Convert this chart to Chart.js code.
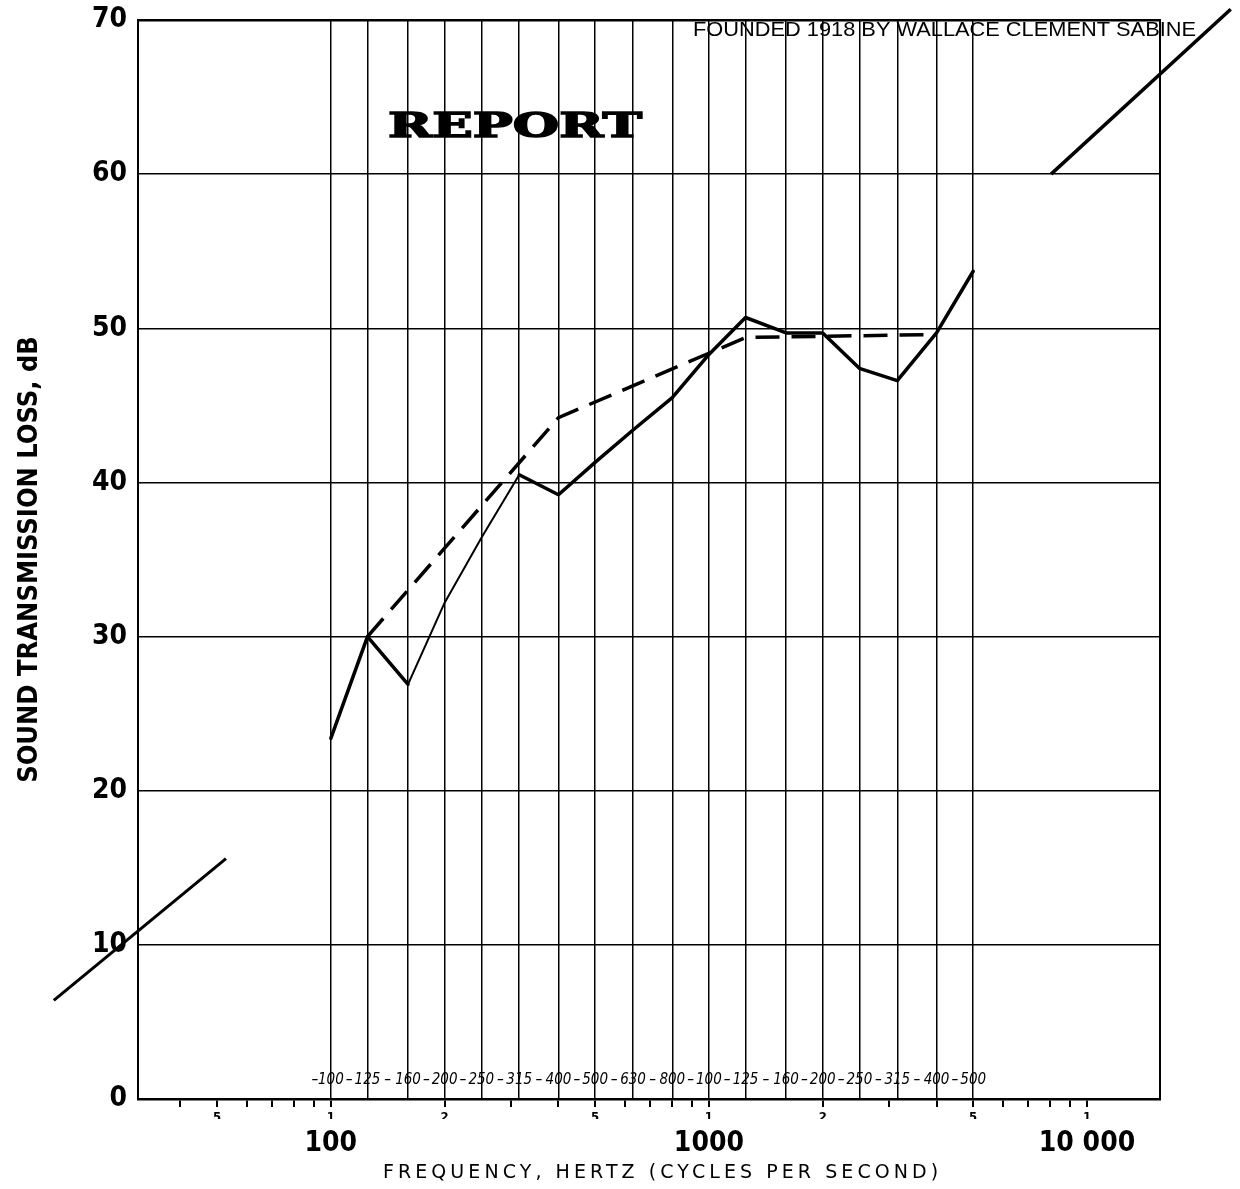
<!DOCTYPE html>
<html>
<head>
<meta charset="utf-8">
<script src="https://cdn.jsdelivr.net/npm/chart.js@4.4.1/dist/chart.umd.min.js"></script>
<style>
  html, body { margin: 0; padding: 0; background: #fff; }
</style>
</head>
<body>
<canvas id="stlChart" width="1240" height="1189"></canvas>
<script>
// one-third octave bands, Hz
var bandFreqs = [100, 125, 160, 200, 250, 315, 400, 500, 630, 800, 1000, 1250, 1600, 2000, 2500, 3150, 4000, 5000];
// band numbers as printed along the bottom of the grid
var bandLabels = ['100', '125', '160', '200', '250', '315', '400', '500', '630', '800',
                  '100', '125', '160', '200', '250', '315', '400', '500'];
// measured transmission loss, dB (solid line)
var tlValues = [23.4, 30.0, 26.9, 32.2, 36.4, 40.5, 39.2, 41.3, 43.4, 45.5, 48.3, 50.7, 49.7, 49.7, 47.4, 46.6, 49.7, 53.7];
// reference contour (dashed line)
var contourFreqs = [125, 400, 1250, 4000];
var contourValues = [30.0, 44.2, 49.4, 49.6];
// pen strokes at the lower left and upper right
var lowStrokeFreqs = [18.5, 52.8];
var lowStrokeValues = [6.4, 15.6];
var highStrokeFreqs = [8035, 24000];
var highStrokeValues = [60.0, 70.7];
// log-cycle ticks under the axis
var cycleTicks = [40, 50, 60, 70, 80, 90, 100, 200, 300, 400, 500, 600, 700, 800, 900,
                  1000, 2000, 3000, 4000, 5000, 6000, 7000, 8000, 9000, 10000];
var cycleLabelAt = [50, 100, 200, 500, 1000, 2000, 5000, 10000];
var cycleLabelText = ['5', '1', '2', '5', '1', '2', '5', '1'];
var decadeTicks = [100, 1000, 10000];
var decadeLabels = ['100', '1000', '10 000'];

var narrow = '"Liberation Sans Narrow", "DejaVu Sans Condensed", "Roboto", sans-serif';
var fMin = 30.9, fMax = 15600;

function pts(xs, ys) {
    return xs.map(function (x, i) { return { x: x, y: ys[i] }; });
}

// printed text on the form: band numbers, REPORT, letterhead, x title
var paperText = {
    id: 'paperText',
    afterDraw: function (chart) {
        var ctx = chart.ctx, xs = chart.scales.x, area = chart.chartArea;
        ctx.save();
        ctx.fillStyle = '#000';
        ctx.strokeStyle = '#000';

        ctx.font = 'italic 15px ' + narrow;
        ctx.textAlign = 'center';
        ctx.textBaseline = 'middle';
        var yb = area.bottom - 19;
        bandFreqs.forEach(function (f, i) {
            var px = xs.getPixelForValue(f);
            var prev = i > 0 ? xs.getPixelForValue(bandFreqs[i - 1]) : px - 32;
            ctx.fillText(bandLabels[i], px, yb);
            ctx.fillText('\u2013', (px + prev) / 2, yb);
        });

        ctx.textAlign = 'left';
        ctx.textBaseline = 'alphabetic';

        ctx.save();
        ctx.font = 'bold 34px "DejaVu Serif"';
        var w = ctx.measureText('REPORT').width;
        ctx.translate(388, 137);
        ctx.scale(254 / w, 1);
        ctx.lineWidth = 1.5;
        ctx.fillText('REPORT', 0, 0);
        ctx.strokeText('REPORT', 0, 0);
        ctx.restore();

        ctx.save();
        ctx.font = '21px "Liberation Sans", Arial, sans-serif';
        var head = 'FOUNDED 1918 BY WALLACE CLEMENT SABINE';
        w = ctx.measureText(head).width;
        ctx.translate(693, 36);
        ctx.scale(503 / w, 1);
        ctx.fillText(head, 0, 0);
        ctx.restore();

        ctx.save();
        var title = 'FREQUENCY, HERTZ (CYCLES PER SECOND)';
        ctx.font = '19px "DejaVu Sans", sans-serif';
        w = ctx.measureText(title).width;
        ctx.letterSpacing = ((555 - w) / (title.length - 1)).toFixed(2) + 'px';
        ctx.fillText(title, 383, 1178);
        ctx.restore();

        ctx.restore();
    }
};

var ctx = document.getElementById('stlChart').getContext('2d');

var stlChart = new Chart(ctx, {
    type: 'line',
    data: {
        datasets: [{
            label: 'Transmission loss',
            data: pts(bandFreqs, tlValues),
            borderColor: '#000',
            borderWidth: 3.5,
            borderCapStyle: 'round',
            borderJoinStyle: 'round',
            pointRadius: 0,
            segment: {
                // thinner pen between 160 and 315 Hz
                borderWidth: function (c) { return (c.p0DataIndex >= 2 && c.p0DataIndex < 5) ? 2 : 3.5; }
            }
        }, {
            label: 'Contour',
            data: pts(contourFreqs, contourValues),
            borderColor: '#000',
            borderWidth: 3.5,
            borderDash: [24, 12],
            pointRadius: 0
        }, {
            label: 'stroke low',
            data: pts(lowStrokeFreqs, lowStrokeValues),
            borderColor: '#000',
            borderWidth: 3,
            pointRadius: 0,
            clip: false
        }, {
            label: 'stroke high',
            data: pts(highStrokeFreqs, highStrokeValues),
            borderColor: '#000',
            borderWidth: 3.5,
            pointRadius: 0,
            clip: false
        }]
    },
    options: {
        responsive: false,
        animation: false,
        layout: { autoPadding: false, padding: { left: 0, right: 80, top: 20, bottom: 0 } },
        plugins: {
            legend: { display: false },
            tooltip: { enabled: false }
        },
        scales: {
            x: {
                type: 'logarithmic',
                position: 'bottom',
                weight: 0,
                min: fMin,
                max: fMax,
                afterBuildTicks: function (s) { s.ticks = cycleTicks.map(function (v) { return { value: v }; }); },
                afterFit: function (s) { s.height = 20; },
                ticks: {
                    autoSkip: false,
                    maxRotation: 0,
                    padding: 3,
                    color: '#000',
                    font: { family: narrow, size: 13, weight: 'bold' },
                    callback: function (v) {
                        var i = cycleLabelAt.indexOf(v);
                        return i >= 0 ? cycleLabelText[i] : '';
                    }
                },
                grid: { drawOnChartArea: false, drawTicks: true, tickLength: 8, color: '#000', lineWidth: 2 },
                border: { display: true, color: '#000', width: 2.5 }
            },
            x2: {
                type: 'logarithmic',
                position: 'top',
                min: fMin,
                max: fMax,
                afterBuildTicks: function (s) { s.ticks = bandFreqs.map(function (v) { return { value: v }; }); },
                afterFit: function (s) { s.height = 0; },
                ticks: { display: false },
                grid: { drawTicks: false, color: '#000', lineWidth: 1.5 },
                border: { display: false }
            },
            x3: {
                type: 'logarithmic',
                position: 'bottom',
                weight: 1,
                min: fMin,
                max: fMax,
                afterBuildTicks: function (s) { s.ticks = decadeTicks.map(function (v) { return { value: v }; }); },
                afterFit: function (s) { s.height = 70; },
                ticks: {
                    autoSkip: false,
                    maxRotation: 0,
                    padding: 0,
                    color: '#000',
                    font: { family: narrow, size: 28, weight: 'bold' },
                    callback: function (v) { return decadeLabels[decadeTicks.indexOf(v)]; }
                },
                grid: { display: false },
                border: { display: false }
            },
            y: {
                position: 'left',
                min: 0,
                max: 70,
                afterFit: function (s) {
                    s.width = 138;
                    s.paddingTop = 0;
                    s.paddingBottom = 0;
                },
                ticks: {
                    stepSize: 10,
                    padding: 11,
                    color: '#000',
                    font: { family: narrow, size: 28, weight: 'bold' }
                },
                grid: {
                    drawTicks: false,
                    color: '#000',
                    lineWidth: function (c) { return c.tick && c.tick.value === 70 ? 2.5 : 1.5; }
                },
                border: { color: '#000', width: 2 },
                title: {
                    display: true,
                    text: 'SOUND TRANSMISSION LOSS, dB',
                    color: '#000',
                    font: { family: narrow, size: 27, weight: 'bold' },
                    padding: { top: 14, bottom: 0 }
                }
            },
            y2: {
                position: 'right',
                min: 0,
                max: 70,
                afterFit: function (s) { s.width = 0; },
                ticks: { display: false },
                grid: { display: false },
                border: { display: true, color: '#000', width: 2 }
            }
        }
    },
    plugins: [paperText]
});
</script>
</body>
</html>
